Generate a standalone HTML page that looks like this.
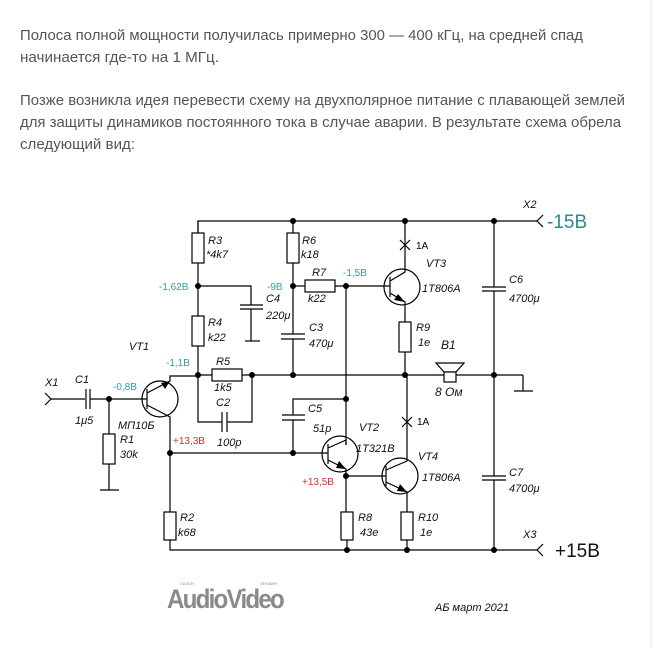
<!DOCTYPE html>
<html><head><meta charset="utf-8"><style>
html,body{margin:0;padding:0;background:#fff;width:654px;height:648px;overflow:hidden}
svg{display:block}
.p{font-family:"Liberation Sans",sans-serif;font-size:14.5px;fill:#555}
.l{font-family:"Liberation Sans",sans-serif;font-size:11px;font-style:italic;fill:#111}
.t{font-family:"Liberation Sans",sans-serif;font-size:10px;fill:#3a9a9a}
.r{font-family:"Liberation Sans",sans-serif;font-size:10px;fill:#d03030}
</style></head><body>
<svg width="654" height="648" viewBox="0 0 654 648" xmlns="http://www.w3.org/2000/svg">
<line x1="651" y1="0" x2="651" y2="648" stroke="#e4e4e4"/>
<text class="p" x="20" y="40" textLength="563" lengthAdjust="spacingAndGlyphs">Полоса полной мощности получилась примерно 300 — 400 кГц, на средней спад</text>
<text class="p" x="20" y="62" textLength="199" lengthAdjust="spacingAndGlyphs">начинается где-то на 1 МГц.</text>
<text class="p" x="20" y="105" textLength="605" lengthAdjust="spacingAndGlyphs">Позже возникла идея перевести схему на двухполярное питание с плавающей землей</text>
<text class="p" x="20" y="127" textLength="601" lengthAdjust="spacingAndGlyphs">для защиты динамиков постоянного тока в случае аварии. В результате схема обрела</text>
<text class="p" x="20" y="149" textLength="115" lengthAdjust="spacingAndGlyphs">следующий вид:</text>

<g stroke="#000" stroke-width="1.2" fill="none">
<polyline points="198,263 198,221 537,221"/>
<polyline points="543,215 537,221 543,227"/>
<polyline points="170,530 170,550 537,550"/>
<polyline points="543,544 537,550 543,556"/>
<line x1="198" y1="375" x2="523" y2="375"/>
<polyline points="523,375 523,391"/><line x1="514" y1="391" x2="533" y2="391"/>
<line x1="198" y1="221" x2="198" y2="233"/><rect x="192" y="233" width="12" height="30" fill="#fff"/>
<line x1="198" y1="263" x2="198" y2="316"/><rect x="192" y="316" width="12" height="30" fill="#fff"/>
<line x1="198" y1="346" x2="198" y2="375"/>
<polyline points="198,286 251,286 251,305"/><line x1="240" y1="305" x2="263" y2="305"/><line x1="240" y1="309" x2="263" y2="309"/>
<line x1="251" y1="309" x2="251" y2="341"/><line x1="245" y1="341" x2="260" y2="341"/>
<rect x="287" y="233" width="12" height="30" fill="#fff"/>
<line x1="293" y1="221" x2="293" y2="233"/><line x1="293" y1="263" x2="293" y2="334"/>
<line x1="281" y1="334" x2="305" y2="334"/><line x1="281" y1="339" x2="305" y2="339"/><line x1="293" y1="339" x2="293" y2="375"/>
<line x1="293" y1="286" x2="305" y2="286"/><rect x="305" y="280" width="30" height="12" fill="#fff"/><line x1="335" y1="286" x2="390" y2="286"/>
<line x1="346" y1="286" x2="346" y2="445"/>
<circle cx="402" cy="287" r="18"/><line x1="390" y1="277" x2="390" y2="297"/>
<polyline points="390,281 405,272 405,221"/><polyline points="390,293 405,302 405,322"/>
<line x1="400" y1="240" x2="410" y2="250"/><line x1="410" y1="240" x2="400" y2="250"/>
<rect x="399" y="322" width="12" height="30" fill="#fff"/><line x1="405" y1="352" x2="405" y2="375"/>
<polygon points="436,363 464,363 456,372 444,372"/><rect x="444" y="372" width="12" height="10" fill="#fff"/>
<line x1="494" y1="221" x2="494" y2="287"/><line x1="482" y1="287" x2="506" y2="287"/><line x1="482" y1="291" x2="506" y2="291"/><line x1="494" y1="291" x2="494" y2="476"/>
<line x1="482" y1="476" x2="506" y2="476"/><line x1="482" y1="480" x2="506" y2="480"/><line x1="494" y1="480" x2="494" y2="550"/>
<polyline points="45,393 51,399 45,405"/><line x1="51" y1="399" x2="85" y2="399"/>
<line x1="86" y1="389" x2="86" y2="409"/><line x1="90" y1="389" x2="90" y2="409"/><line x1="90" y1="399" x2="147" y2="399"/>
<line x1="109" y1="399" x2="109" y2="434"/><rect x="103" y="434" width="12" height="30" fill="#fff"/><line x1="109" y1="464" x2="109" y2="490"/><line x1="100" y1="490" x2="119" y2="490"/>
<circle cx="160" cy="399" r="18"/><line x1="147" y1="389" x2="147" y2="409"/>
<polyline points="147,393 170,381 170,376 198,376"/><polyline points="147,405 170,417 170,530"/>
<rect x="164" y="512" width="12" height="28" fill="#fff"/>
<rect x="212" y="369" width="30" height="12" fill="#fff"/>
<polyline points="198,375 198,422 222,422"/><polyline points="227,422 252,422 252,375"/>
<line x1="222" y1="412" x2="222" y2="432"/><line x1="227" y1="412" x2="227" y2="432"/>
<polyline points="346,399 293,399 293,415"/><line x1="282" y1="415" x2="305" y2="415"/><line x1="282" y1="420" x2="305" y2="420"/><line x1="293" y1="420" x2="293" y2="453"/>
<line x1="170" y1="453" x2="328" y2="453"/>
<circle cx="340" cy="454" r="18"/><line x1="328" y1="444" x2="328" y2="464"/>
<polyline points="328,448 346,440 346,445"/><polyline points="328,460 346,469 346,512"/>
<rect x="341" y="512" width="12" height="28" fill="#fff"/><line x1="347" y1="540" x2="347" y2="550"/>
<line x1="346" y1="476" x2="386" y2="476"/>
<circle cx="400" cy="476" r="18"/><line x1="386" y1="466" x2="386" y2="486"/>
<polyline points="386,470 407,461 407,375"/><polyline points="386,482 407,492 407,512"/>
<line x1="402" y1="417" x2="412" y2="427"/><line x1="412" y1="417" x2="402" y2="427"/>
<rect x="401" y="512" width="12" height="28" fill="#fff"/><line x1="407" y1="540" x2="407" y2="550"/>
</g>
<g fill="#000">
<polygon points="170,381 161,383 165,389"/>
<polygon points="405,302 394,300 398,294"/>
<polygon points="346,469 336,468 339,461"/>
<polygon points="407,492 397,491 400,484"/>
<circle cx="293" cy="221" r="3"/><circle cx="405" cy="221" r="3"/><circle cx="494" cy="221" r="3"/>
<circle cx="198" cy="286" r="3"/><circle cx="293" cy="286" r="3"/><circle cx="346" cy="286" r="3"/>
<circle cx="198" cy="375" r="3"/><circle cx="252" cy="375" r="3"/><circle cx="293" cy="375" r="3"/><circle cx="405" cy="375" r="3"/><circle cx="494" cy="375" r="3"/>
<circle cx="109" cy="399" r="3"/><circle cx="346" cy="399" r="3"/>
<circle cx="170" cy="453" r="3"/><circle cx="293" cy="453" r="3"/><circle cx="346" cy="476" r="3"/>
<circle cx="347" cy="550" r="3"/><circle cx="407" cy="550" r="3"/><circle cx="494" cy="550" r="3"/>
</g>
<g class="l">
<text x="208" y="244">R3</text><text x="206" y="258">*4k7</text>
<text x="208" y="326">R4</text><text x="208" y="341">k22</text>
<text x="266" y="302">C4</text><text x="266" y="319">220μ</text>
<text x="302" y="244">R6</text><text x="301" y="258">k18</text>
<text x="312" y="276">R7</text><text x="308" y="302">k22</text>
<text x="309" y="331">C3</text><text x="309" y="347">470μ</text>
<text x="426" y="267">VT3</text><text x="422" y="292">1T806A</text>
<text x="416" y="331">R9</text><text x="418" y="346">1е</text>
<text x="441" y="349" font-size="12">B1</text><text x="435" y="396" font-size="12">8 Ом</text>
<text x="509" y="283">C6</text><text x="509" y="302">4700μ</text>
<text x="129" y="350">VT1</text>
<text x="216" y="365">R5</text><text x="214" y="391">1k5</text>
<text x="216" y="406">C2</text><text x="217" y="446">100p</text>
<text x="45" y="386">X1</text><text x="75" y="383">C1</text><text x="75" y="424">1μ5</text>
<text x="118" y="429">МП10Б</text><text x="120" y="443">R1</text><text x="120" y="458">30k</text>
<text x="308" y="412">C5</text><text x="313" y="432">51p</text>
<text x="359" y="431">VT2</text><text x="356" y="452">1T321B</text>
<text x="418" y="460">VT4</text><text x="422" y="481">1T806A</text>
<text x="509" y="476">C7</text><text x="509" y="492">4700μ</text>
<text x="180" y="521">R2</text><text x="178" y="536">k68</text>
<text x="358" y="521">R8</text><text x="360" y="536">43е</text>
<text x="418" y="521">R10</text><text x="420" y="536">1е</text>
<text x="523" y="208">X2</text><text x="523" y="538">X3</text>
<text x="435" y="611">АБ март 2021</text>
</g>
<g font-family="Liberation Sans,sans-serif" font-size="10">
<text x="416" y="249">1A</text><text x="417" y="425">1A</text>
</g>
<text class="t" x="159" y="290">-1,62B</text><text class="t" x="267" y="290">-9B</text><text class="t" x="343" y="276">-1,5B</text>
<text class="t" x="166" y="366">-1,1B</text><text class="t" x="113" y="390">-0,8B</text>
<text class="r" x="173" y="444">+13,3B</text><text class="r" x="302" y="485">+13,5B</text>
<text x="547" y="228" font-family="Liberation Sans,sans-serif" font-size="19" fill="#2a8a8a">-15B</text>
<text x="555" y="557" font-family="Liberation Sans,sans-serif" font-size="19" fill="#111">+15B</text>
<text x="167" y="608" font-family="Liberation Sans,sans-serif" font-size="27" font-weight="bold" fill="#8a8a8a" letter-spacing="-2" textLength="116" lengthAdjust="spacingAndGlyphs">AudioVideo</text>
<text x="180" y="585" font-family="Liberation Sans,sans-serif" font-size="4" fill="#888">САЛОН</text>
<text x="260" y="585" font-family="Liberation Sans,sans-serif" font-size="4" fill="#888">ОНЛАЙН</text>
</svg>
</body></html>
